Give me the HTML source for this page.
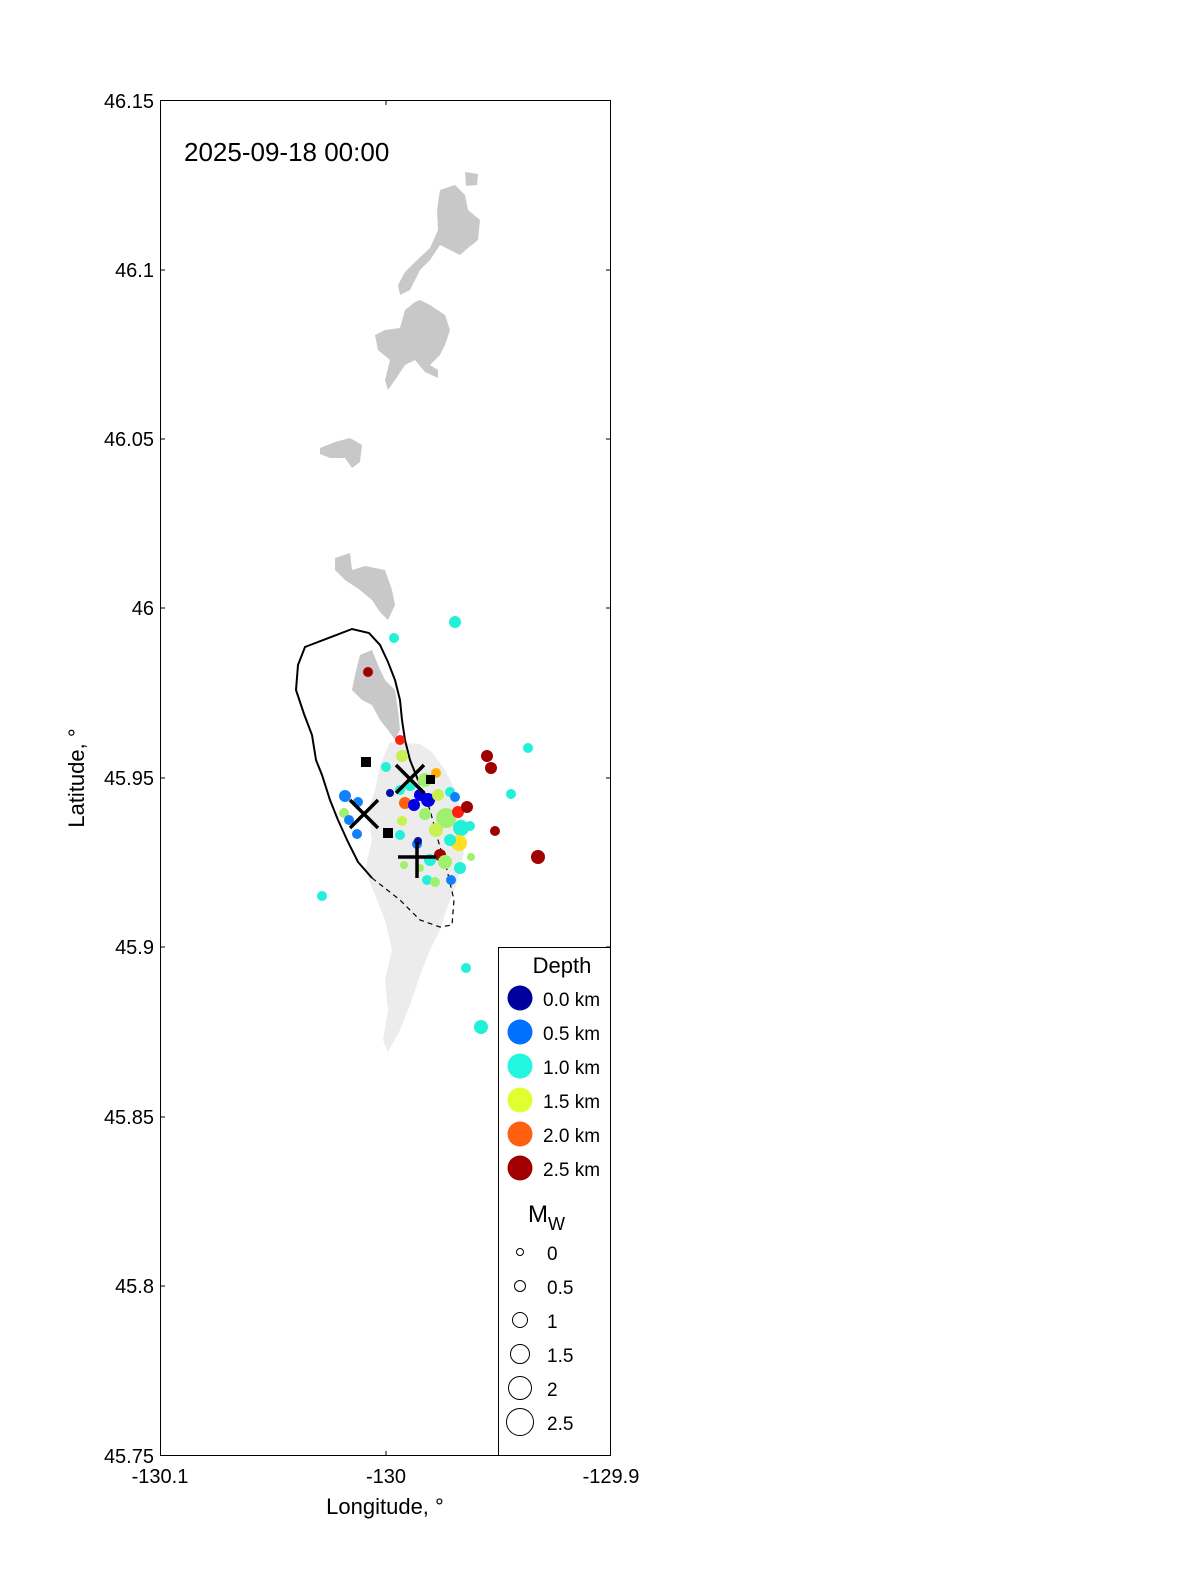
<!DOCTYPE html>
<html><head><meta charset="utf-8"><style>html,body{margin:0;padding:0;background:#fff;overflow:hidden;width:1200px;height:1575px}svg{display:block}text{font-family:"Liberation Sans",Arial,sans-serif;fill:#000}</style></head><body>
<svg width="1200" height="1575" viewBox="0 0 1200 1575" xmlns="http://www.w3.org/2000/svg">
<rect x="160" y="100" width="451" height="1356" fill="#fff"/>
<g fill="#ececec">
<path d="M390,742 L420,744 L432,752 L445,770 L455,790 L462,815 L465,845 L458,880 L448,905 L440,930 L430,950 L420,975 L410,1005 L400,1030 L388,1052 L383,1040 L388,1010 L385,980 L392,950 L385,920 L375,895 L365,870 L372,840 L368,810 L375,790 L380,765 Z"/>
</g>
<g fill="#c8c8c8">
<path d="M465,172 L478,174 L477,185 L466,186 Z"/>
<path d="M440,190 L455,185 L465,195 L468,210 L480,220 L478,240 L468,248 L460,255 L450,250 L440,245 L430,260 L420,270 L415,280 L410,290 L400,295 L398,285 L405,272 L415,262 L430,248 L438,230 L437,210 Z"/>
<path d="M420,300 L430,305 L445,315 L450,330 L445,345 L440,355 L430,365 L438,370 L438,378 L425,372 L415,360 L405,365 L395,380 L388,390 L385,380 L390,360 L378,350 L375,335 L385,330 L400,328 L405,310 L415,302 Z"/>
<path d="M320,448 L335,442 L350,438 L362,445 L360,462 L352,468 L345,458 L330,458 L320,454 Z"/>
<path d="M335,558 L350,553 L352,570 L365,566 L385,570 L392,590 L395,605 L388,620 L380,612 L372,600 L360,590 L345,580 L335,570 Z"/>
<path d="M360,655 L372,650 L378,665 L385,680 L395,690 L398,710 L400,730 L395,740 L388,730 L380,720 L372,705 L362,700 L352,690 L355,675 Z"/>
</g>
<path d="M372,878 L358,862 L348,842 L338,820 L330,800 L322,775 L316,760 L312,735 L304,714 L296,690 L298,665 L305,647 L352,629 L369,633 L380,645 L388,662 L395,680 L400,700 L402,720 L405,740 L410,760 L418,780" fill="none" stroke="#000" stroke-width="2"/>
<path d="M372,878 L400,900 L420,920 L440,927 L452,925 L454,900 L447,870 L438,840 L430,810 L418,780" fill="none" stroke="#000" stroke-width="1.2" stroke-dasharray="5,4"/>
<g>
<circle cx="455" cy="622" r="6" fill="#22f0d8"/>
<circle cx="394" cy="638" r="5" fill="#22f0d8"/>
<circle cx="368" cy="672" r="5" fill="#a00000"/>
<circle cx="400" cy="740" r="5" fill="#ff2010"/>
<circle cx="528" cy="748" r="5" fill="#22f0d8"/>
<circle cx="487" cy="756" r="6" fill="#a00000"/>
<circle cx="491" cy="768" r="6" fill="#a00000"/>
<circle cx="511" cy="794" r="5" fill="#22f0d8"/>
<circle cx="495" cy="831" r="5" fill="#a00000"/>
<circle cx="538" cy="857" r="7" fill="#a00000"/>
<circle cx="322" cy="896" r="5" fill="#22f0d8"/>
<circle cx="466" cy="968" r="5" fill="#22f0d8"/>
<circle cx="481" cy="1027" r="7" fill="#22f0d8"/>
<circle cx="402" cy="756" r="6" fill="#c8f050"/>
<circle cx="386" cy="767" r="5" fill="#22f0d8"/>
<circle cx="345" cy="796" r="6" fill="#1080ff"/>
<circle cx="358" cy="802" r="5" fill="#1080ff"/>
<circle cx="344" cy="813" r="5" fill="#a0f070"/>
<circle cx="349" cy="820" r="5" fill="#1080ff"/>
<circle cx="357" cy="834" r="5" fill="#1080ff"/>
<circle cx="400" cy="835" r="5" fill="#22f0d8"/>
<circle cx="390" cy="793" r="4" fill="#0010a0"/>
<circle cx="405" cy="803" r="6" fill="#ff6010"/>
<circle cx="402" cy="821" r="5" fill="#c8f050"/>
<circle cx="417" cy="844" r="5" fill="#1080ff"/>
<circle cx="418" cy="841" r="4" fill="#0010a0"/>
<circle cx="436" cy="773" r="5" fill="#ffb000"/>
<circle cx="425" cy="780" r="7" fill="#a0f070"/>
<circle cx="410" cy="785" r="6" fill="#22f0d8"/>
<circle cx="420" cy="795" r="6" fill="#0000e0"/>
<circle cx="414" cy="805" r="6" fill="#0000e0"/>
<circle cx="428" cy="800" r="7" fill="#0000e0"/>
<circle cx="438" cy="795" r="6" fill="#c8f050"/>
<circle cx="450" cy="792" r="5" fill="#22f0d8"/>
<circle cx="455" cy="797" r="5" fill="#1080ff"/>
<circle cx="425" cy="814" r="6" fill="#a0f070"/>
<circle cx="446" cy="818" r="10" fill="#a0f070"/>
<circle cx="458" cy="812" r="6" fill="#ff2010"/>
<circle cx="467" cy="807" r="6" fill="#a00000"/>
<circle cx="461" cy="828" r="8" fill="#22f0d8"/>
<circle cx="470" cy="826" r="5" fill="#22f0d8"/>
<circle cx="436" cy="830" r="7" fill="#c8f050"/>
<circle cx="459" cy="843" r="8" fill="#ffe020"/>
<circle cx="450" cy="840" r="6" fill="#22f0d8"/>
<circle cx="440" cy="855" r="6" fill="#a00000"/>
<circle cx="430" cy="860" r="6" fill="#22f0d8"/>
<circle cx="445" cy="862" r="7" fill="#a0f070"/>
<circle cx="460" cy="868" r="6" fill="#22f0d8"/>
<circle cx="471" cy="857" r="4" fill="#a0f070"/>
<circle cx="404" cy="865" r="4" fill="#a0f070"/>
<circle cx="420" cy="868" r="4" fill="#a0f070"/>
<circle cx="427" cy="880" r="5" fill="#22f0d8"/>
<circle cx="435" cy="882" r="5" fill="#a0f070"/>
<circle cx="451" cy="880" r="5" fill="#1080ff"/>
<circle cx="400" cy="790" r="5" fill="#22f0d8"/>
</g>
<g fill="#000">
<rect x="361" y="757" width="10" height="10"/>
<rect x="383" y="828" width="10" height="10"/>
<rect x="426" y="775" width="9" height="9"/>
</g>
<g stroke="#000" stroke-width="3.5" fill="none">
<path d="M396,765 L424,793 M424,765 L396,793"/>
<path d="M350,800 L378,828 M378,800 L350,828"/>
<path d="M398,857 L436,857 M417,842 L417,878"/>
</g>
<rect x="160.5" y="100.5" width="450" height="1355" fill="none" stroke="#000" stroke-width="1"/>
<g stroke="#000" stroke-width="1">
<path d="M160,270H165M160,439H165M160,608H165M160,778H165M160,947H165M160,1117H165M160,1286H165"/>
<path d="M611,270H606M611,439H606M611,608H606M611,778H606M611,947H606M611,1117H606M611,1286H606"/>
<path d="M386,1456V1451M386,100V105"/>
</g>
<g font-size="20" text-anchor="end">
<text x="154" y="108">46.15</text>
<text x="154" y="277">46.1</text>
<text x="154" y="446">46.05</text>
<text x="154" y="615">46</text>
<text x="154" y="785">45.95</text>
<text x="154" y="954">45.9</text>
<text x="154" y="1124">45.85</text>
<text x="154" y="1293">45.8</text>
<text x="154" y="1463">45.75</text>
</g>
<g font-size="20" text-anchor="middle">
<text x="160" y="1483">-130.1</text>
<text x="386" y="1483">-130</text>
<text x="611" y="1483">-129.9</text>
<text x="385" y="1514" font-size="22">Longitude, °</text>
</g>
<text transform="translate(84,778) rotate(-90)" font-size="22" text-anchor="middle">Latitude, °</text>
<text x="184" y="161" font-size="26">2025-09-18 00:00</text>
<rect x="498.5" y="947.5" width="112" height="508" fill="#fff" stroke="#000"/>
<text x="562" y="973" font-size="22" text-anchor="middle">Depth</text>
<g font-size="19">
<circle cx="520" cy="998" r="12.5" fill="#00009c"/><text x="543" y="1006">0.0 km</text>
<circle cx="520" cy="1032" r="12.5" fill="#0070ff"/><text x="543" y="1040">0.5 km</text>
<circle cx="520" cy="1066" r="12.5" fill="#22f5e0"/><text x="543" y="1074">1.0 km</text>
<circle cx="520" cy="1100" r="12.5" fill="#e0ff30"/><text x="543" y="1108">1.5 km</text>
<circle cx="520" cy="1134" r="12.5" fill="#ff6010"/><text x="543" y="1142">2.0 km</text>
<circle cx="520" cy="1168" r="12.5" fill="#a00000"/><text x="543" y="1176">2.5 km</text>
</g>
<text x="528" y="1222" font-size="24">M<tspan font-size="18" dy="8">W</tspan></text>
<g fill="none" stroke="#000" stroke-width="1">
<circle cx="520" cy="1252" r="3.5"/>
<circle cx="520" cy="1286" r="5.5"/>
<circle cx="520" cy="1320" r="7.5"/>
<circle cx="520" cy="1354" r="9.5"/>
<circle cx="520" cy="1388" r="11.5"/>
<circle cx="520" cy="1422" r="13.5"/>
</g>
<g font-size="19">
<text x="547" y="1260">0</text>
<text x="547" y="1294">0.5</text>
<text x="547" y="1328">1</text>
<text x="547" y="1362">1.5</text>
<text x="547" y="1396">2</text>
<text x="547" y="1430">2.5</text>
</g>
</svg>
</body></html>
